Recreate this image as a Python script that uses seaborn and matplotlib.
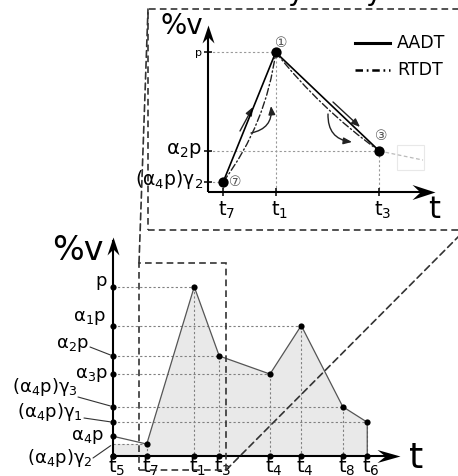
import numpy as np
import matplotlib
matplotlib.use('Agg')
import matplotlib.pyplot as plt
import matplotlib.transforms as mtransforms
from matplotlib.path import Path
from matplotlib.markers import MarkerStyle
from matplotlib.patches import Rectangle, ConnectionPatch
import seaborn as sns

# ---------------- data: main chart ----------------
t_names = ['t$_5$', 't$_7$', 't$_1$', 't$_3$', 't$_4$', 't$_4$', 't$_8$', 't$_6$']
t_values = [0.0, 1.35, 3.25, 4.25, 6.28, 7.53, 9.19, 10.17]
traj_values = [11.5, 6.9, 100.0, 59.0, 48.3, 77.0, 29.0, 19.8]

level_names = ['p', 'α$_1$p', 'α$_2$p', 'α$_3$p', '(α$_4$p)γ$_3$',
               '(α$_4$p)γ$_1$', 'α$_4$p', '(α$_4$p)γ$_2$']
level_values = [100.0, 77.0, 59.0, 48.3, 29.0, 19.8, 11.5, 6.9]

zoom_t = [1.04, 4.52]
zoom_v = [-8.5, 114.0]

# ---------------- data: inset ----------------
inset_t_names = ['t$_7$', 't$_1$', 't$_3$']
inset_t = [1.53, 6.77, 17.13]
inset_v = [7.2, 100.0, 29.2]
inset_level_names = ['(α$_4$p)γ$_2$', 'p', 'α$_2$p']
inset_point_ids = ['⑦', '①', '③']
rtdt_tail = [21.5, 22.7]
legend_names = ['AADT', 'RTDT']

# ---------------- layout ----------------
W_PX, H_PX = 458, 476
fig = plt.figure(figsize=(W_PX / 100, H_PX / 100), dpi=100)
P = mtransforms.Affine2D().scale(1 / W_PX, -1 / H_PX).translate(0, 1) + fig.transFigure

DASH = (0, (4, 2.5))
GUIDE = (0, (2, 2))
DOTCOL = '#808080'


def stealth(L, W, notch, vertical=False):
    pts = [(0, 0), (-L, W), (-notch, 0), (-L, -W), (0, 0)]
    if vertical:
        pts = [(-y, x) for x, y in pts]
    codes = [Path.MOVETO, Path.LINETO, Path.LINETO, Path.LINETO, Path.CLOSEPOLY]
    return MarkerStyle(Path(pts, codes)), 1.44 * L


# ================= main chart =================
ax = fig.add_axes([0, 0, 1, 1])
ax.axis('off')

# fill under trajectory
fill_x = [t_values[0], t_values[0]] + t_values[1:] + [t_values[-1]]
fill_y = [0, traj_values[1]] + traj_values[1:] + [0]
ax.fill(fill_x, fill_y, color='#e9e9e9', lw=0, zorder=1)

# guides
for t, v in zip(t_values[1:], traj_values[1:]):
    ax.plot([0, t], [v, v], color=DOTCOL, lw=0.8, ls=GUIDE, zorder=2)
    ax.plot([t, t], [v, 0], color=DOTCOL, lw=0.8, ls=GUIDE, zorder=2)

# trajectory
sns.lineplot(x=t_values + [t_values[-1]], y=traj_values + [0], sort=False,
             estimator=None, color='#555555', lw=0.9, ax=ax, zorder=3)

# axes with arrows
x_tip, y_tip = 11.48, 129.4
ax.plot([0, x_tip - 0.3], [0, 0], color='black', lw=1.5, zorder=4, solid_capstyle='butt')
ax.plot([0, 0], [0, y_tip - 2], color='black', lw=1.5, zorder=4, solid_capstyle='butt')
m, ms = stealth(23, 6.5, 15)
ax.plot([x_tip], [0], marker=m, ms=ms, color='black', mew=0, zorder=5)
m, ms = stealth(18, 6, 12, vertical=True)
ax.plot([0], [y_tip], marker=m, ms=ms, color='black', mew=0, zorder=5)

# dots
sns.scatterplot(x=[0] * (len(level_values) - 1) + [0], y=level_values[:-1] + [0],
                color='black', s=20, linewidth=0, ax=ax, zorder=6)
sns.scatterplot(x=t_values, y=[0] * len(t_values), color='black', s=20,
                linewidth=0, ax=ax, zorder=6)
sns.scatterplot(x=t_values[1:], y=traj_values[1:], color='black', s=20,
                linewidth=0, ax=ax, zorder=6)

# x tick labels
for name, t in zip(t_names, t_values):
    ax.annotate(name, xy=(t, 0), xytext=(-5, -16.5), textcoords='offset pixels',
                ha='left', va='baseline', fontsize=14)

# y labels (right x, baseline y in px) and optional leader start
label_pos = [(107, 286), (106, 321), (89, 348), (108, 378),
             (78, 392), (83, 417), (104, 440), (93, 463)]
leader_start = [None, None, (90, 347), None, (78, 397), (84, 418), None, (93, 458)]
for name, v, pos, ls_ in zip(level_names, level_values, label_pos, leader_start):
    ax.text(pos[0], pos[1], name, transform=P, ha='right', va='baseline', fontsize=13)
    if ls_ is not None:
        ax.annotate('', xy=(0, v), xycoords='data', xytext=ls_, textcoords=P,
                    arrowprops=dict(arrowstyle='-', color='#333333', lw=0.8,
                                    shrinkA=0, shrinkB=2))

ax.text(78, 260, '%v', transform=P, ha='center', va='baseline', fontsize=24)
ax.text(416, 468, 't', transform=P, ha='center', va='baseline', fontsize=26)

# zoom window rectangle
ax.add_patch(Rectangle((zoom_t[0], zoom_v[0]), zoom_t[1] - zoom_t[0], zoom_v[1] - zoom_v[0],
                       fill=False, ec='#333333', lw=1.2, ls=DASH, zorder=4))

ax.set_xlim(-113 / 25, (W_PX - 113) / 25)
ax.set_ylim((455.7 - H_PX) / 1.69, 455.7 / 1.69)

# ================= inset =================
box = (148, 9, 465, 230)  # left, top, right, bottom in px
ax_in = fig.add_axes([box[0] / W_PX, (H_PX - box[3]) / H_PX,
                      (box[2] - box[0]) / W_PX, (box[3] - box[1]) / H_PX])
ax_in.set_facecolor('white')
ax_in.set_xticks([])
ax_in.set_yticks([])
for s in ax_in.spines.values():
    s.set_visible(False)
ax_in.add_patch(Rectangle((0, 0), 1, 1, transform=ax_in.transAxes, fill=False,
                          ec='#333333', lw=1.2, ls=DASH, clip_on=False))

# connectors
for xyA, xyB in [((zoom_t[0], zoom_v[1]), (0, 1)), ((zoom_t[1], zoom_v[0]), (1, 0))]:
    cp = ConnectionPatch(xyA=xyA, coordsA=ax.transData, xyB=xyB, coordsB=ax_in.transAxes,
                         color='#333333', lw=1.2, ls=DASH)
    fig.add_artist(cp)

# guides
for t, v in zip(inset_t, inset_v):
    ax_in.plot([0, t], [v, v], color='#999999', lw=0.8, ls=GUIDE)
    ax_in.plot([t, t], [v, 0], color='#999999', lw=0.8, ls=GUIDE)

# faint ghost box and RTDT tail
ax_in.add_patch(Rectangle((18.9, 15.3), 2.7, 18.0, fill=False, ec='#e8e8e8', lw=0.8))
ax_in.plot([inset_t[2], rtdt_tail[0]], [inset_v[2], rtdt_tail[1]], color='#bbbbbb',
           lw=0.9, ls=(0, (3, 2)))

# AADT
sns.lineplot(x=inset_t, y=inset_v, sort=False, estimator=None, color='black',
             lw=1.2, ax=ax_in, zorder=4)
# RTDT
for (a, b, rad) in [(0, 1, 0.13), (1, 2, 0.07)]:
    ax_in.annotate('', xy=(inset_t[b], inset_v[b]), xytext=(inset_t[a], inset_v[a]),
                   arrowprops=dict(arrowstyle='-', lw=1.0, color='#222222',
                                   linestyle=(0, (5, 2, 1, 2)), shrinkA=0, shrinkB=0,
                                   connectionstyle=f'arc3,rad={rad}'), zorder=4)

# direction arrows
for st, en, rad in [((240, 131), (253, 107), 0.0), ((251, 133), (271, 106), 0.45),
                    ((333, 102), (360, 127), 0.0), ((328, 114), (352, 142), 0.45)]:
    ax_in.annotate('', xy=en, xycoords=P, xytext=st, textcoords=P,
                   arrowprops=dict(arrowstyle='-|>,head_length=0.5,head_width=0.2',
                                   lw=1.0, color='#222222', shrinkA=0, shrinkB=0,
                                   connectionstyle=f'arc3,rad={rad}'))

# axes
ix_tip, iy_tip = 22.7, 119.6
ax_in.plot([0, ix_tip - 0.5], [0, 0], color='black', lw=1.5, solid_capstyle='butt', zorder=5)
ax_in.plot([0, 0], [0, iy_tip - 5], color='black', lw=1.5, solid_capstyle='butt', zorder=5)
m, ms = stealth(23, 7.5, 15)
ax_in.plot([ix_tip], [0], marker=m, ms=ms, color='black', mew=0, zorder=6)
m, ms = stealth(18, 6, 12, vertical=True)
ax_in.plot([0], [iy_tip], marker=m, ms=ms, color='black', mew=0, zorder=6)

# ticks
ax_in.plot(inset_t, [0] * len(inset_t), ls='none', marker='|', ms=6, mew=1.1, color='black', zorder=6)
ax_in.plot([0] * len(inset_v), inset_v, ls='none', marker='_', ms=6, mew=1.1, color='black', zorder=6)

# points
sns.scatterplot(x=inset_t, y=inset_v, color='black', s=55, linewidth=0, ax=ax_in, zorder=7)
for pid, t, v, off in zip(inset_point_ids, inset_t, inset_v, [(12, 0), (6, 9), (2, 15)]):
    ax_in.annotate(pid, xy=(t, v), xytext=off, textcoords='offset pixels', ha='center',
                   va='center', fontsize=10, color='#555555',
                   family=['DejaVu Sans', 'Noto Sans CJK SC'])

# labels
for name, t in zip(inset_t_names, inset_t):
    ax_in.annotate(name, xy=(t, 0), xytext=(-5, -24), textcoords='offset pixels',
                   ha='left', va='baseline', fontsize=14)
inset_label_pos = [(203, 185, 13.5), (202, 56, 8), (202, 154, 14)]
for name, (x, y, fs) in zip(inset_level_names, inset_label_pos):
    ax_in.text(x, y, name, transform=P, ha='right', va='baseline', fontsize=fs)
ax_in.text(182, 34, '%v', transform=P, ha='center', va='baseline', fontsize=20)
ax_in.text(434, 218, 't', transform=P, ha='center', va='baseline', fontsize=22)

# legend
for i, (name, lsty, lw) in enumerate(zip(legend_names, ['-', (0, (3, 1.5, 0.7, 1.5))], [2.2, 1.8])):
    y = 43 + 27 * i
    ax_in.plot([355, 390], [y, y], transform=P, color='black', lw=lw, ls=lsty)
    ax_in.text(397, y + 5, name, transform=P, ha='left', va='baseline', fontsize=12.5)

ax_in.set_xlim((box[0] - 208) / 10, (box[2] - 208) / 10)
ax_in.set_ylim((191.7 - box[3]) / 1.394, (191.7 - box[1]) / 1.394)

# cut-off title descenders at very top (as in the reference)
for x in [295, 373]:
    fig.text(x, 0.5, 'y', transform=P, ha='center', va='baseline', fontsize=20)

fig.savefig('out.png', dpi=100)
